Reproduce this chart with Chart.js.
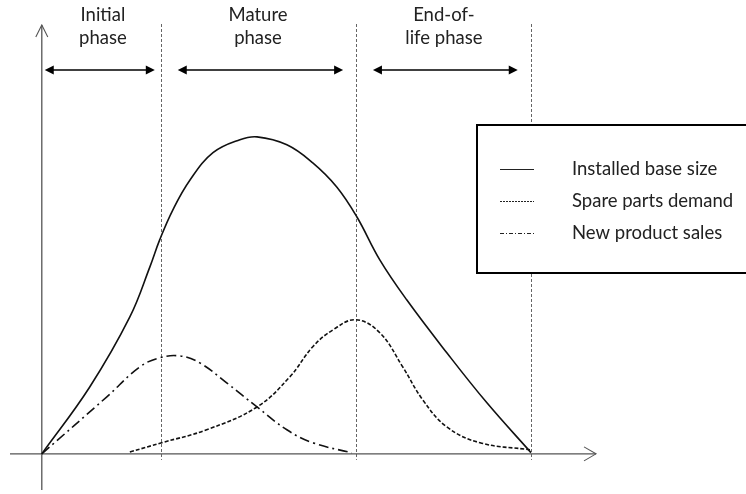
<!DOCTYPE html>
<html>
<head>
<meta charset="utf-8">
<script src="https://cdn.jsdelivr.net/npm/chart.js@4.4.1/dist/chart.umd.min.js"></script>
<style>
  html, body { margin: 0; padding: 0; background: #fff; }
  #wrap { width: 746px; height: 494px; }
</style>
</head>
<body>
<div id="wrap"><canvas id="lifeCycle" width="746" height="494"></canvas></div>
<script>
// Time runs 0..100 (end of life), size 0..100 (peak installed base)
const baseX = [0, 9.8, 18.0, 22.1, 24.1, 26.8, 30.3, 35.0, 40.5, 44.0, 50.1, 55.4, 60.3, 64.4, 69.1, 74.6, 82.8, 91.0, 100];
const baseY = [0, 21.1, 43.2, 59.0, 67.5, 77.0, 86.4, 95.0, 99.1, 100, 97.5, 91.8, 84.2, 74.8, 61.2, 48.6, 31.9, 16.1, 0.4];

const spareX = [18.0, 24.5, 33.7, 44.0, 50.7, 55.4, 59.5, 64.2, 69.1, 73.8, 77.9, 82.8, 89.6, 99.8];
const spareY = [0.6, 3.5, 7.6, 14.8, 24.3, 33.8, 39.1, 42.3, 38.2, 27.4, 17.0, 8.5, 3.5, 1.3];

const salesX = [0, 13.3, 20.0, 24.1, 28.2, 32.3, 37.8, 44.0, 50.1, 55.4, 63.4];
const salesY = [0, 18.0, 27.4, 30.3, 30.9, 28.7, 22.4, 14.8, 7.6, 3.5, 0.3];

const seriesNames = ['Installed base size', 'Spare parts demand', 'New product sales'];

// phase boundaries, double arrow spans and labels
const phaseBounds = [24.3, 64.2, 100];
const phaseSpans = [[0.6, 23.1], [27.8, 61.6], [67.7, 97.3]];
const phaseLabelX = [12.5, 44.2, 82.2];
const phaseLabels = [['Initial', 'phase'], ['Mature', 'phase'], ['End-of-', 'life phase']];

const toPoints = (xs, ys) => xs.map((v, i) => ({ x: v, y: ys[i] }));

const FONT = '18.5px Lato, "Open Sans", sans-serif';

function line(ctx, x1, y1, x2, y2) {
    ctx.beginPath();
    ctx.moveTo(x1, y1);
    ctx.lineTo(x2, y2);
    ctx.stroke();
}

function filledHead(ctx, x, y, dir) {
    ctx.beginPath();
    ctx.moveTo(x, y);
    ctx.lineTo(x - dir * 9, y - 4.5);
    ctx.lineTo(x - dir * 9, y + 4.5);
    ctx.closePath();
    ctx.fill();
}

const diagramPlugin = {
    id: 'diagram',
    beforeDatasetsDraw(chart) {
        const { ctx, chartArea, scales: { x, y } } = chart;
        const x0 = x.getPixelForValue(0);
        const y0 = y.getPixelForValue(0);
        ctx.save();

        // dotted phase boundaries
        ctx.strokeStyle = '#666';
        ctx.lineWidth = 1;
        ctx.setLineDash([3, 2]);
        phaseBounds.forEach(v => {
            const px = Math.round(x.getPixelForValue(v)) + 0.5;
            line(ctx, px, chartArea.top - 1, px, y0 + 6);
        });
        ctx.setLineDash([]);

        // axes with open arrow heads
        ctx.strokeStyle = '#555';
        ctx.lineWidth = 1.3;
        line(ctx, chartArea.left, y0, chartArea.right, y0);
        line(ctx, x0, chartArea.top, x0, chartArea.bottom);
        ctx.lineWidth = 1.1;
        ctx.beginPath();
        ctx.moveTo(chartArea.right - 12, y0 - 7);
        ctx.lineTo(chartArea.right, y0);
        ctx.lineTo(chartArea.right - 12, y0 + 7);
        ctx.moveTo(x0 - 6, chartArea.top + 12);
        ctx.lineTo(x0, chartArea.top);
        ctx.lineTo(x0 + 6, chartArea.top + 12);
        ctx.stroke();

        // phase double arrows
        const ay = y.getPixelForValue(121.1);
        ctx.strokeStyle = '#000';
        ctx.fillStyle = '#000';
        ctx.lineWidth = 1.5;
        phaseSpans.forEach(([a, b]) => {
            const pa = x.getPixelForValue(a);
            const pb = x.getPixelForValue(b);
            line(ctx, pa + 4, ay, pb - 4, ay);
            filledHead(ctx, pa, ay, -1);
            filledHead(ctx, pb, ay, 1);
        });

        // phase labels
        ctx.fillStyle = '#222';
        ctx.font = FONT;
        ctx.textAlign = 'center';
        ctx.textBaseline = 'middle';
        phaseLabels.forEach((lines, i) => {
            const px = x.getPixelForValue(phaseLabelX[i]);
            ctx.fillText(lines[0], px, 15);
            ctx.fillText(lines[1], px, 38);
        });
        ctx.restore();
    },
    afterDraw(chart) {
        const { ctx } = chart;
        ctx.save();
        // legend box
        ctx.fillStyle = '#fff';
        ctx.fillRect(476, 124, 290, 149);
        ctx.strokeStyle = '#000';
        ctx.lineWidth = 2;
        ctx.strokeRect(477, 125, 290, 148);

        const legendDash = [[], [2, 1], [4, 2, 1, 2]];
        const rows = [169, 201, 233];
        ctx.font = FONT;
        ctx.textAlign = 'left';
        ctx.textBaseline = 'middle';
        chart.data.datasets.forEach((ds, i) => {
            ctx.strokeStyle = '#222';
            ctx.lineWidth = 1;
            ctx.setLineDash(legendDash[i]);
            line(ctx, 500, rows[i] + 0.5, 534, rows[i] + 0.5);
            ctx.setLineDash([]);
            ctx.fillStyle = '#222';
            ctx.fillText(ds.label, 572, rows[i]);
        });
        ctx.restore();
    }
};

const lineStyle = {
    borderColor: '#111',
    borderWidth: 1.6,
    pointRadius: 0,
    fill: false,
    tension: 0.4
};

new Chart(document.getElementById('lifeCycle'), {
    type: 'line',
    data: {
        datasets: [
            { ...lineStyle, label: seriesNames[0], data: toPoints(baseX, baseY) },
            { ...lineStyle, label: seriesNames[1], data: toPoints(spareX, spareY), borderDash: [4, 2] },
            { ...lineStyle, label: seriesNames[2], data: toPoints(salesX, salesY), borderDash: [10, 4, 2, 4] }
        ]
    },
    options: {
        responsive: false,
        animation: false,
        layout: { padding: { left: 10, right: 150, top: 25, bottom: 4 } },
        scales: {
            x: { type: 'linear', min: -6.5, max: 113.3, display: false },
            y: { type: 'linear', min: -11.4, max: 135.3, display: false }
        },
        plugins: {
            legend: { display: false },
            tooltip: { enabled: false }
        }
    },
    plugins: [diagramPlugin]
});
</script>
</body>
</html>
